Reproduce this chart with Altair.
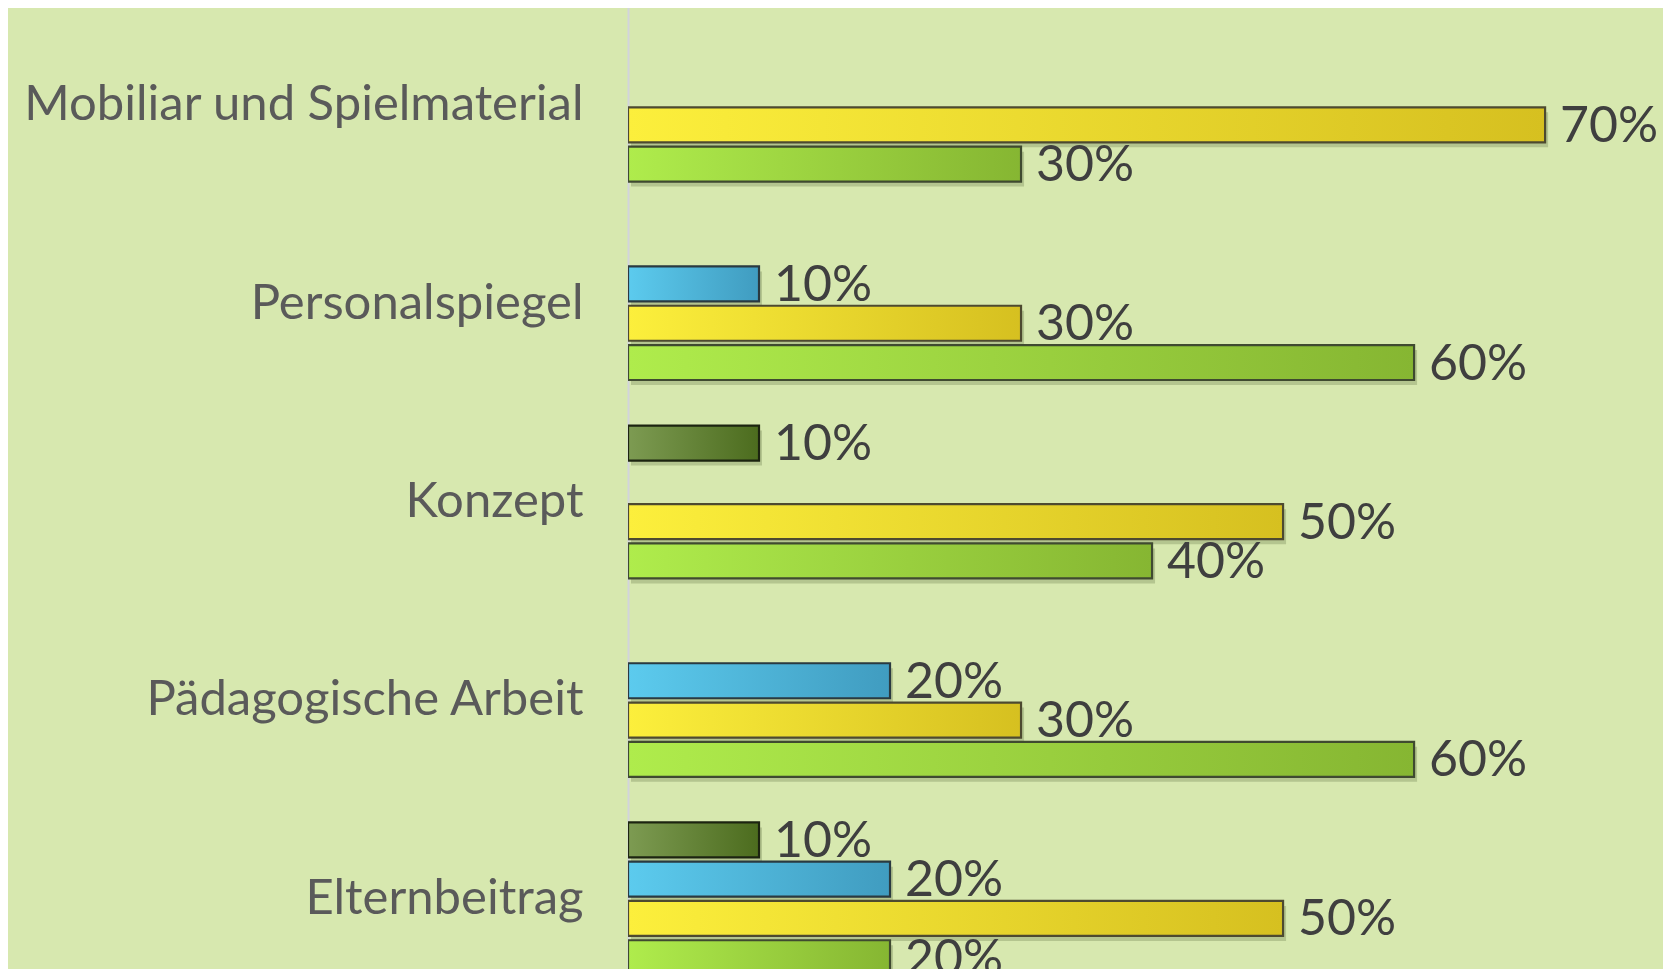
import altair as alt
import pandas as pd

categories = ["Mobiliar und Spielmaterial", "Personalspiegel", "Konzept",
              "Pädagogische Arbeit", "Elternbeitrag"]
series = ["Serie 1", "Serie 2", "Serie 3", "Serie 4"]
serie1 = [None, None, 0.10, None, 0.10]   # dark green
serie2 = [None, 0.10, None, 0.20, 0.20]   # blue
serie3 = [0.70, 0.30, 0.50, 0.30, 0.50]   # yellow
serie4 = [0.30, 0.60, 0.40, 0.60, 0.20]   # green

rows = []
for s, vals in zip(series, [serie1, serie2, serie3, serie4]):
    for c, v in zip(categories, vals):
        if v is not None:
            rows.append({"cat": c, "serie": s, "value": v})
df = pd.DataFrame(rows)

gradients = {
    "Serie 1": ("#7d9b52", "#4c6c1e", "#1c2410"),
    "Serie 2": ("#5ccbee", "#409cc0", "#2a3a40"),
    "Serie 3": ("#fcef3c", "#d6c020", "#4d4a30"),
    "Serie 4": ("#afec4c", "#86b632", "#3f4a30"),
}

W, H = 1035, 961
XMAX = 0.79
yoff = alt.YOffset("serie:N", sort=series,
                   scale=alt.Scale(domain=series, paddingInner=0.11, paddingOuter=0.58))


def y_enc(shift=0, axis=True):
    ax = alt.Axis(title=None, ticks=False, labelFontSize=49,
                  labelColor="#5a5a5a", labelFont="Lato",
                  labelPadding=45, labelLimit=700,
                  domainColor="#d2d3dc", domainWidth=2, grid=False) if axis else None
    return alt.Y("cat:N", sort=categories,
                 scale=alt.Scale(range=[-2 + shift, 990 + shift],
                                 paddingInner=0, paddingOuter=0),
                 axis=ax)


def x_enc(shift=0):
    return alt.X("value:Q", scale=alt.Scale(domain=[0, XMAX], range=[shift, W + shift]),
                 axis=None)


base = alt.Chart(df)

shadow = base.mark_bar(color="#3a4a20", opacity=0.22, clip=True).encode(
    y=y_enc(5, axis=False), x=x_enc(3), yOffset=yoff)

layers = []
for s in series:
    c0, c1, st = gradients[s]
    layers.append(
        base.transform_filter(alt.datum.serie == s).mark_bar(
            clip=True, stroke=st, strokeWidth=2.2,
            color=alt.Gradient(gradient="linear",
                               stops=[alt.GradientStop(color=c0, offset=0),
                                      alt.GradientStop(color=c1, offset=1)],
                               x1=0, x2=1, y1=0, y2=0),
        ).encode(y=y_enc(), x=x_enc(), yOffset=yoff)
    )

text = base.mark_text(align="left", baseline="middle", dx=15, dy=2, fontSize=50,
                      font="Lato", color="#3f3f3f", clip=True).encode(
    y=y_enc(), x=x_enc(), yOffset=yoff, text=alt.Text("value:Q", format=".0%"))
layers.append(text)

main = alt.layer(*layers)

chart = alt.layer(shadow, main).resolve_scale(x="independent", y="independent").properties(
    width=W, height=H,
    autosize=alt.AutoSizeParams(type="none"),
    padding={"left": 620, "top": 0, "right": 0, "bottom": 0},
    background="#d7e8af",
).configure_view(stroke=None)

chart.save("out.html", embed_options={"renderer": "svg", "actions": False})
